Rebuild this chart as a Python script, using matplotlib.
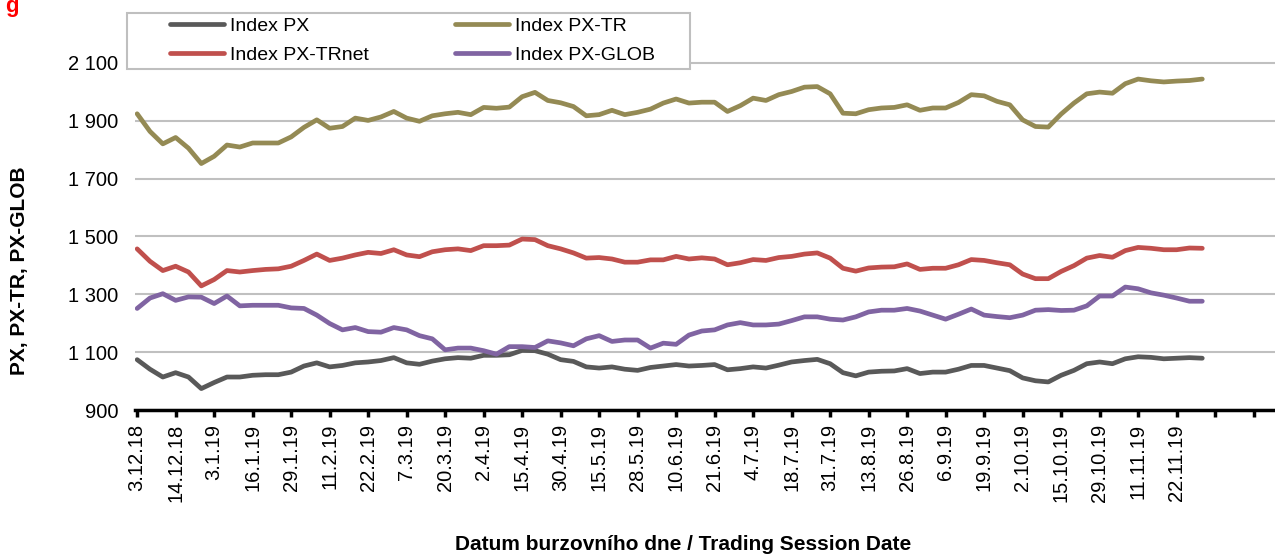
import numpy as np
import matplotlib
matplotlib.use("Agg")
import matplotlib.pyplot as plt
from matplotlib.patches import Rectangle

plt.rcParams["font.family"] = ["Liberation Sans", "DejaVu Sans"]

# Index values, sampled every 3rd trading day from 3.12.2018
px = [1074, 1041, 1014, 1029, 1014, 974, 995, 1014, 1014, 1020, 1022, 1022, 1031, 1052, 1063, 1049, 1054,
      1063, 1066, 1071, 1081, 1063, 1058, 1069, 1077, 1081, 1079, 1089, 1089, 1091, 1106, 1105, 1093, 1074,
      1068, 1049, 1045, 1049, 1041, 1037, 1047, 1052, 1057, 1052, 1054, 1057, 1039, 1043, 1049, 1045, 1055,
      1066, 1071, 1075, 1060, 1029, 1018, 1031, 1034, 1035, 1043, 1026, 1031, 1031, 1041, 1054, 1054,
      1045, 1036, 1011, 1001, 997, 1020, 1037, 1060, 1066, 1060, 1077, 1084, 1082, 1077, 1079, 1081, 1079]
px_tr = [1924, 1863, 1820, 1842, 1805, 1752, 1777, 1816, 1809, 1823, 1823, 1823, 1844, 1877, 1903, 1874, 1880,
         1909, 1901, 1913, 1932, 1909, 1898, 1917, 1924, 1929, 1921, 1946, 1943, 1947, 1983, 1998, 1970, 1962,
         1949, 1917, 1921, 1936, 1921, 1929, 1940, 1961, 1975, 1961, 1964, 1964, 1932, 1952, 1978, 1970, 1990,
         2001, 2016, 2018, 1993, 1926, 1924, 1938, 1944, 1946, 1955, 1936, 1944, 1944, 1963, 1990, 1986,
         1967, 1955, 1903, 1880, 1878, 1923, 1961, 1993, 1999, 1995, 2028, 2044, 2038, 2034, 2037, 2039, 2044]
px_trnet = [1457, 1414, 1382, 1397, 1377, 1329, 1351, 1382, 1377, 1382, 1386, 1388, 1397, 1417, 1439, 1417, 1425,
            1436, 1445, 1441, 1454, 1436, 1430, 1447, 1454, 1457, 1451, 1468, 1468, 1470, 1491, 1489, 1468, 1457,
            1443, 1425, 1427, 1422, 1411, 1411, 1419, 1419, 1431, 1422, 1426, 1422, 1402, 1409, 1420, 1417, 1427,
            1431, 1439, 1443, 1425, 1390, 1380, 1391, 1394, 1395, 1405, 1386, 1390, 1390, 1402, 1420, 1417,
            1409, 1402, 1370, 1354, 1354, 1379, 1399, 1425, 1434, 1428, 1451, 1462, 1459, 1454, 1454, 1460, 1459]
px_glob = [1251, 1287, 1302, 1279, 1291, 1290, 1268, 1294, 1260, 1262, 1262, 1262, 1253, 1251, 1228, 1199, 1177,
           1185, 1171, 1169, 1185, 1177, 1157, 1146, 1108, 1114, 1114, 1105, 1093, 1119, 1119, 1116, 1139, 1132,
           1122, 1146, 1157, 1137, 1142, 1142, 1114, 1131, 1127, 1159, 1173, 1177, 1194, 1202, 1194, 1194, 1197,
           1209, 1222, 1222, 1214, 1211, 1222, 1239, 1245, 1245, 1251, 1242, 1228, 1214, 1231, 1249, 1228,
           1223, 1219, 1228, 1245, 1247, 1244, 1245, 1260, 1294, 1294, 1325, 1319, 1305, 1297, 1287, 1276, 1276]

# tick labels, one every 9 trading days
dates = ["3.12.18", "14.12.18", "3.1.19", "16.1.19", "29.1.19", "11.2.19", "22.2.19", "7.3.19",
         "20.3.19", "2.4.19", "15.4.19", "30.4.19", "15.5.19", "28.5.19", "10.6.19", "21.6.19",
         "4.7.19", "18.7.19", "31.7.19", "13.8.19", "26.8.19", "6.9.19", "19.9.19", "2.10.19",
         "15.10.19", "29.10.19", "11.11.19", "22.11.19", "", ""]
yticks = [900, 1100, 1300, 1500, 1700, 1900, 2100]

W, H = 1275, 555
fig = plt.figure(figsize=(W / 100, H / 100), dpi=100)
ax = fig.add_axes([135 / W, 1 - 410 / H, 1 - 135 / W, (410 - 5) / H])

day = np.arange(len(px)) * 3
series = [
    (px, "Index PX", "#595959"),
    (px_trnet, "Index PX-TRnet", "#C0504D"),
    (px_tr, "Index PX-TR", "#948A54"),
    (px_glob, "Index PX-GLOB", "#8064A2"),
]
for vals, name, col in series:
    ax.plot(day, vals, color=col, lw=3.4, label=name, solid_capstyle="round", solid_joinstyle="round")

ax.set_xlim(-0.5, 266)
ax.set_ylim(900, 2300)
ax.set_yticks(yticks)
ax.set_yticklabels([f"{v:,}".replace(",", " ") for v in yticks], fontsize=14.5)
ax.set_xticks(np.arange(len(dates)) * 9)
ax.set_xticklabels(dates, rotation=90, fontsize=14.5, va="top", ha="center")
ax.tick_params(axis="y", length=0, pad=12)
ax.tick_params(axis="x", length=5, width=2.5, color="black", pad=5, direction="out")

ax.grid(axis="y", color="#c0c0c0", lw=1.5)
ax.set_axisbelow(True)
for s in ["top", "right", "left"]:
    ax.spines[s].set_visible(False)
ax.spines["bottom"].set_linewidth(2.5)
ax.spines["bottom"].set_zorder(5)

# legend with its own frame
fig.patches.append(Rectangle((127 / W, 1 - 69 / H), (690 - 127) / W, 56 / H, transform=fig.transFigure,
                             facecolor="white", edgecolor="#bfbfbf", lw=1.5, zorder=10))
leg = fig.legend(loc="upper left", bbox_to_anchor=(168 / W, 1 - 15 / H), ncol=2, frameon=False,
                 fontsize=14, borderpad=0.1, handlelength=2.8, handletextpad=0.3,
                 columnspacing=4.4, labelspacing=0.6, borderaxespad=0)
leg.set_zorder(11)

fig.text(20 / W, 1 - 271 / H, "PX, PX-TR, PX-GLOB", rotation=90, fontsize=15, fontweight="bold",
         ha="center", va="center")
fig.text(683 / W, 1 - 545 / H, "Datum burzovního dne / Trading Session Date", fontsize=15,
         fontweight="bold", ha="center", va="center")
fig.text(5 / W, 1 + 4 / H, "g", color="red", fontsize=16, fontweight="bold", ha="left", va="top")

fig.savefig("out.png", dpi=100)
